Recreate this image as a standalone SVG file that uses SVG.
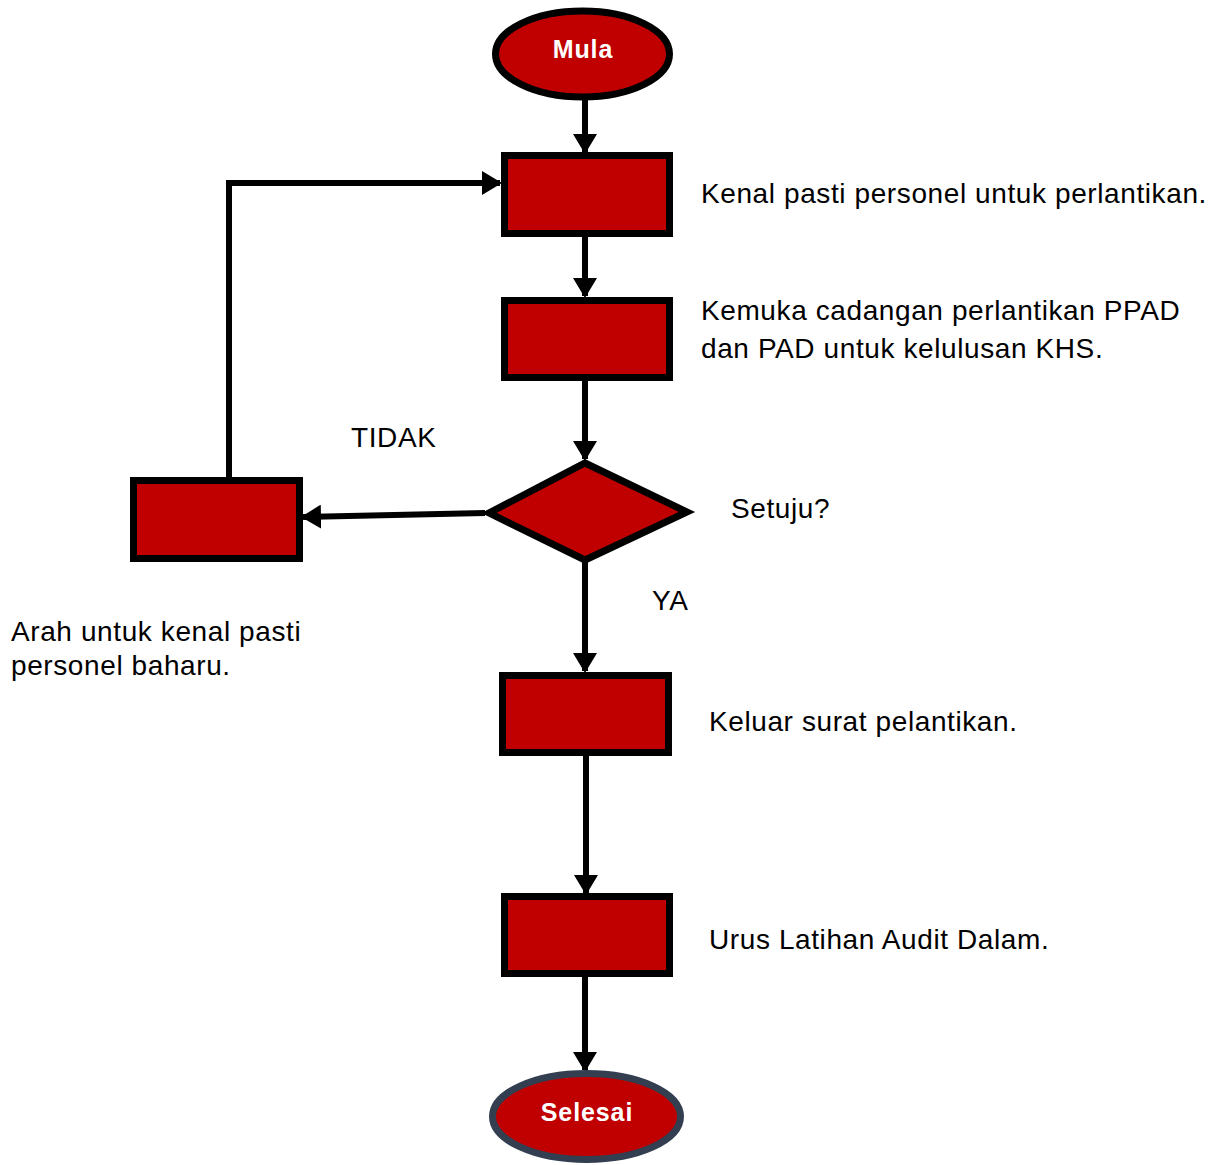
<svg xmlns="http://www.w3.org/2000/svg" width="1214" height="1165" viewBox="0 0 1214 1165">
<style>
.box{fill:#C00000;stroke:#000;stroke-width:7}
.edge{fill:none;stroke:#000;stroke-width:6}
.t{font-family:"Liberation Sans",Arial,sans-serif;font-size:28px;letter-spacing:0.6px;fill:#000}
.tw{font-family:"Liberation Sans",Arial,sans-serif;font-size:25px;letter-spacing:0.9px;font-weight:bold;fill:#fff;text-anchor:middle}
</style>
<defs>
<marker id="ah" markerUnits="userSpaceOnUse" markerWidth="24" markerHeight="24" refX="18" refY="12" orient="auto" viewBox="0 0 24 24">
<path d="M0,0 L20,12 L0,24 Z" fill="#000"/>
</marker>
</defs>
<g id="connectors">
<line class="edge" x1="585" y1="100" x2="585" y2="152" marker-end="url(#ah)"/>
<line class="edge" x1="585" y1="237" x2="585" y2="296" marker-end="url(#ah)"/>
<line class="edge" x1="585" y1="381" x2="585" y2="459" marker-end="url(#ah)"/>
<polyline class="edge" points="485,513 303,517" marker-end="url(#ah)"/>
<polyline class="edge" points="229,477 229,183 500,183" marker-end="url(#ah)"/>
<line class="edge" x1="585" y1="562" x2="585" y2="671" marker-end="url(#ah)"/>
<line class="edge" x1="586" y1="756" x2="586" y2="893" marker-end="url(#ah)"/>
<line class="edge" x1="585" y1="977" x2="585" y2="1070" marker-end="url(#ah)"/>
</g>
<g id="mula">
<ellipse class="box" cx="582.5" cy="54" rx="87" ry="43"/>
<text class="tw" x="583" y="58">Mula</text>
</g>
<g id="kenal">
<rect class="box" x="504.5" y="155.5" width="165" height="78"/>
<text class="t" x="701" y="203">Kenal pasti personel untuk perlantikan.</text>
</g>
<g id="kemuka">
<rect class="box" x="504.5" y="300.5" width="165" height="77"/>
<text class="t" x="701" y="320">Kemuka cadangan perlantikan PPAD</text>
<text class="t" x="701" y="358">dan PAD untuk kelulusan KHS.</text>
</g>
<g id="setuju">
<polygon class="box" points="585,463 687,512 585,560 489,513"/>
<text class="t" x="731" y="518">Setuju?</text>
</g>
<g id="arah">
<rect class="box" x="133.5" y="480.5" width="166" height="78"/>
<text class="t" x="11" y="641">Arah untuk kenal pasti</text>
<text class="t" x="11" y="675">personel baharu.</text>
</g>
<text class="t" x="351" y="447">TIDAK</text>
<text class="t" x="652" y="610">YA</text>
<g id="keluar">
<rect class="box" x="502.5" y="675.5" width="166" height="77"/>
<text class="t" x="709" y="731">Keluar surat pelantikan.</text>
</g>
<g id="urus">
<rect class="box" x="504.5" y="896.5" width="165" height="77"/>
<text class="t" x="709" y="949">Urus Latihan Audit Dalam.</text>
</g>
<g id="selesai">
<ellipse cx="586.5" cy="1116.5" rx="94" ry="43" fill="#C00000" stroke="#333F50" stroke-width="7"/>
<text class="tw" x="587" y="1121">Selesai</text>
</g>
</svg>
